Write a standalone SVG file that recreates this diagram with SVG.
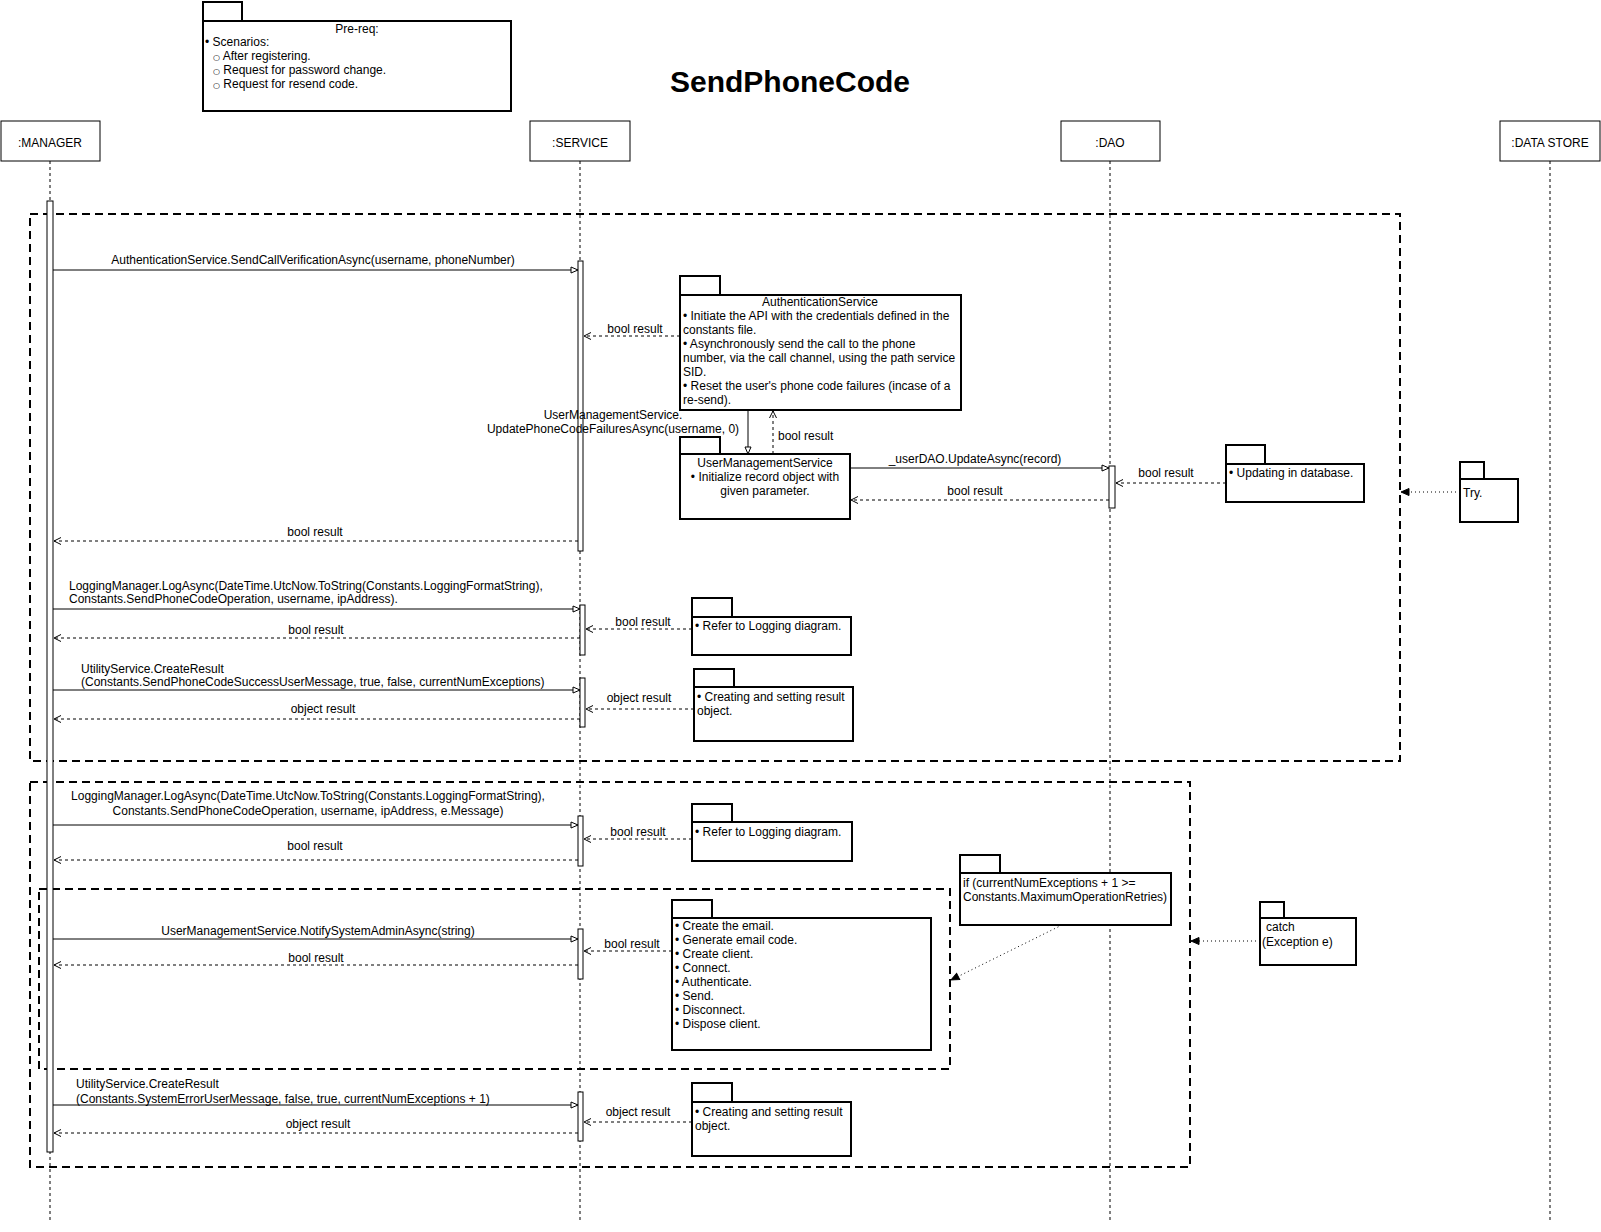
<svg xmlns="http://www.w3.org/2000/svg" width="1601" height="1232" viewBox="0 0 1601 1232">
<style>
.t{font-family:"Liberation Sans",Arial,Helvetica,sans-serif;font-size:12px;fill:#000}
.c{text-anchor:middle}
.b{font-family:"DejaVu Sans",sans-serif;font-size:8px}
.title{font-family:"Liberation Sans",Arial,Helvetica,sans-serif;font-size:30px;font-weight:bold;text-anchor:middle;fill:#000}
.hbox{fill:#fff;stroke:#000;stroke-width:1}
.ll{stroke:#000;stroke-width:1;stroke-dasharray:3 3;fill:none}
.act{fill:#fff;stroke:#000;stroke-width:1}
.note{fill:#fff;stroke:#000;stroke-width:2}
.frame{fill:none;stroke:#000;stroke-width:2;stroke-dasharray:8 5}
.msg{stroke:#000;stroke-width:1;fill:none;marker-end:url(#sync)}
.ret{stroke:#000;stroke-width:1;stroke-dasharray:3 3;fill:none;marker-end:url(#open)}
.dot{stroke:#000;stroke-width:1;stroke-dasharray:1 3;fill:none;marker-end:url(#solid)}
</style>
<defs>
<marker id="sync" markerUnits="userSpaceOnUse" markerWidth="10" markerHeight="10" refX="7" refY="3.5" orient="auto" overflow="visible"><path d="M0,0.5 L7,3.5 L0,6.5 Z" fill="#fff" stroke="#000" stroke-width="1"/></marker>
<marker id="open" markerUnits="userSpaceOnUse" markerWidth="10" markerHeight="10" refX="7" refY="3.5" orient="auto" overflow="visible"><path d="M0,0 L7,3.5 L0,7" fill="none" stroke="#000" stroke-width="1"/></marker>
<marker id="solid" markerUnits="userSpaceOnUse" markerWidth="10" markerHeight="10" refX="8" refY="3.5" orient="auto" overflow="visible"><path d="M0,0 L8,3.5 L0,7 Z" fill="#000" stroke="#000" stroke-width="1"/></marker>
</defs>
<rect width="1601" height="1232" fill="#fff"/>

<text class="title" x="790" y="92">SendPhoneCode</text>

<g id="frames">
<rect class="frame" x="30" y="214" width="1370" height="547"/>
<rect class="frame" x="30" y="782" width="1160" height="385"/>
<rect class="frame" x="39" y="889" width="911" height="180"/>
</g>

<g id="prereq">
<rect class="note" x="203" y="2" width="39" height="19"/>
<rect class="note" x="203" y="21" width="308" height="90"/>
<text class="t c" x="357" y="33">Pre-req:</text>
<text class="t" x="205" y="46">• Scenarios:</text>
<text class="t" x="213" y="60"><tspan class="b">○</tspan> After registering.</text>
<text class="t" x="213" y="74"><tspan class="b">○</tspan> Request for password change.</text>
<text class="t" x="213" y="88"><tspan class="b">○</tspan> Request for resend code.</text>
</g>

<g id="manager">
<rect class="hbox" x="1" y="121" width="99" height="40"/>
<text class="t c" x="50" y="147">:MANAGER</text>
<line class="ll" x1="50" y1="161" x2="50" y2="1220"/>
</g>
<g id="service">
<rect class="hbox" x="530" y="121" width="100" height="40"/>
<text class="t c" x="580" y="147">:SERVICE</text>
<line class="ll" x1="580" y1="161" x2="580" y2="1220"/>
</g>
<g id="dao">
<rect class="hbox" x="1061" y="121" width="99" height="40"/>
<text class="t c" x="1110" y="147">:DAO</text>
<line class="ll" x1="1110" y1="161" x2="1110" y2="1220"/>
</g>
<g id="datastore">
<rect class="hbox" x="1500" y="121" width="100" height="40"/>
<text class="t c" x="1550" y="147">:DATA STORE</text>
<line class="ll" x1="1550" y1="161" x2="1550" y2="1220"/>
</g>

<g id="activations">
<rect class="act" x="47" y="201" width="6" height="951"/>
<rect class="act" x="578" y="261" width="5" height="290"/>
<rect class="act" x="580" y="605" width="5" height="50"/>
<rect class="act" x="580" y="678" width="5" height="49"/>
<rect class="act" x="578" y="816" width="5" height="50"/>
<rect class="act" x="578" y="929" width="5" height="50"/>
<rect class="act" x="578" y="1092" width="5" height="49"/>
<rect class="act" x="1109" y="466" width="6" height="42"/>
</g>

<g id="connectors">
<line class="msg" x1="53" y1="270" x2="578" y2="270"/>
<text class="t c" x="313" y="264">AuthenticationService.SendCallVerificationAsync(username, phoneNumber)</text>

<line class="ret" x1="680" y1="336" x2="584" y2="336"/>
<text class="t c" x="635" y="333">bool result</text>

<line class="msg" x1="748" y1="410" x2="748" y2="454"/>
<text class="t c" x="613" y="419">UserManagementService.</text>
<text class="t c" x="613" y="433">UpdatePhoneCodeFailuresAsync(username, 0)</text>
<line class="ret" x1="773" y1="454" x2="773" y2="411"/>
<text class="t" x="778" y="440">bool result</text>

<line class="msg" x1="850" y1="468" x2="1109" y2="468"/>
<text class="t c" x="975" y="463">_userDAO.UpdateAsync(record)</text>
<line class="ret" x1="1226" y1="483" x2="1116" y2="483"/>
<text class="t c" x="1166" y="477">bool result</text>
<line class="ret" x1="1109" y1="500" x2="851" y2="500"/>
<text class="t c" x="975" y="495">bool result</text>

<line class="ret" x1="578" y1="541" x2="54" y2="541"/>
<text class="t c" x="315" y="536">bool result</text>

<line class="dot" x1="1460" y1="492" x2="1401" y2="492"/>

<line class="msg" x1="53" y1="609" x2="580" y2="609"/>
<text class="t" x="69" y="590">LoggingManager.LogAsync(DateTime.UtcNow.ToString(Constants.LoggingFormatString),</text>
<text class="t" x="69" y="603">Constants.SendPhoneCodeOperation, username, ipAddress).</text>
<line class="ret" x1="692" y1="629" x2="586" y2="629"/>
<text class="t c" x="643" y="626">bool result</text>
<line class="ret" x1="580" y1="638" x2="54" y2="638"/>
<text class="t c" x="316" y="634">bool result</text>

<line class="msg" x1="53" y1="690" x2="580" y2="690"/>
<text class="t" x="81" y="673">UtilityService.CreateResult</text>
<text class="t" x="81" y="686">(Constants.SendPhoneCodeSuccessUserMessage, true, false, currentNumExceptions)</text>
<line class="ret" x1="694" y1="709" x2="586" y2="709"/>
<text class="t c" x="639" y="702">object result</text>
<line class="ret" x1="580" y1="719" x2="54" y2="719"/>
<text class="t c" x="323" y="713">object result</text>

<line class="msg" x1="53" y1="825" x2="578" y2="825"/>
<text class="t c" x="308" y="800">LoggingManager.LogAsync(DateTime.UtcNow.ToString(Constants.LoggingFormatString),</text>
<text class="t c" x="308" y="815">Constants.SendPhoneCodeOperation, username, ipAddress, e.Message)</text>
<line class="ret" x1="692" y1="839" x2="584" y2="839"/>
<text class="t c" x="638" y="836">bool result</text>
<line class="ret" x1="578" y1="860" x2="54" y2="860"/>
<text class="t c" x="315" y="850">bool result</text>

<line class="msg" x1="53" y1="939" x2="578" y2="939"/>
<text class="t c" x="318" y="935">UserManagementService.NotifySystemAdminAsync(string)</text>
<line class="ret" x1="672" y1="951" x2="584" y2="951"/>
<text class="t c" x="632" y="948">bool result</text>
<line class="ret" x1="578" y1="965" x2="54" y2="965"/>
<text class="t c" x="316" y="962">bool result</text>

<line class="dot" x1="1062" y1="925" x2="951" y2="980"/>
<line class="dot" x1="1260" y1="941" x2="1191" y2="941"/>

<line class="msg" x1="53" y1="1105" x2="578" y2="1105"/>
<text class="t" x="76" y="1088">UtilityService.CreateResult</text>
<text class="t" x="76" y="1103">(Constants.SystemErrorUserMessage, false, true, currentNumExceptions + 1)</text>
<line class="ret" x1="692" y1="1122" x2="584" y2="1122"/>
<text class="t c" x="638" y="1116">object result</text>
<line class="ret" x1="578" y1="1133" x2="54" y2="1133"/>
<text class="t c" x="318" y="1128">object result</text>
</g>

<g id="authNote">
<rect class="note" x="680" y="276" width="40" height="19"/>
<rect class="note" x="680" y="295" width="281" height="115"/>
<text class="t c" x="820" y="306">AuthenticationService</text>
<text class="t" x="683" y="320">• Initiate the API with the credentials defined in the</text>
<text class="t" x="683" y="334">constants file.</text>
<text class="t" x="683" y="348">• Asynchronously send the call to the phone</text>
<text class="t" x="683" y="362">number, via the call channel, using the path service</text>
<text class="t" x="683" y="376">SID.</text>
<text class="t" x="683" y="390">• Reset the user's phone code failures (incase of a</text>
<text class="t" x="683" y="404">re-send).</text>
</g>

<g id="userMgmtNote">
<rect class="note" x="680" y="437" width="40" height="17"/>
<rect class="note" x="680" y="454" width="170" height="65"/>
<text class="t c" x="765" y="467">UserManagementService</text>
<text class="t c" x="765" y="481">• Initialize record object with</text>
<text class="t c" x="765" y="495">given parameter.</text>
</g>

<g id="dbNote">
<rect class="note" x="1226" y="445" width="39" height="19"/>
<rect class="note" x="1226" y="464" width="138" height="38"/>
<text class="t" x="1229" y="477">• Updating in database.</text>
</g>

<g id="tryNote">
<rect class="note" x="1460" y="462" width="24" height="17"/>
<rect class="note" x="1460" y="479" width="58" height="43"/>
<text class="t" x="1463" y="497">Try.</text>
</g>

<g id="logNote1">
<rect class="note" x="692" y="598" width="40" height="19"/>
<rect class="note" x="692" y="617" width="159" height="38"/>
<text class="t" x="695" y="630">• Refer to Logging diagram.</text>
</g>

<g id="resultNote1">
<rect class="note" x="694" y="669" width="40" height="18"/>
<rect class="note" x="694" y="687" width="159" height="54"/>
<text class="t" x="697" y="701">• Creating and setting result</text>
<text class="t" x="697" y="715">object.</text>
</g>

<g id="logNote2">
<rect class="note" x="692" y="804" width="40" height="18"/>
<rect class="note" x="692" y="822" width="160" height="39"/>
<text class="t" x="695" y="836">• Refer to Logging diagram.</text>
</g>

<g id="ifNote">
<rect class="note" x="960" y="855" width="40" height="18"/>
<rect class="note" x="960" y="873" width="211" height="52"/>
<text class="t" x="963" y="887">if (currentNumExceptions + 1 &gt;=</text>
<text class="t" x="963" y="901">Constants.MaximumOperationRetries)</text>
</g>

<g id="emailNote">
<rect class="note" x="672" y="900" width="40" height="18"/>
<rect class="note" x="672" y="918" width="259" height="132"/>
<text class="t" x="675" y="930">• Create the email.</text>
<text class="t" x="675" y="944">• Generate email code.</text>
<text class="t" x="675" y="958">• Create client.</text>
<text class="t" x="675" y="972">• Connect.</text>
<text class="t" x="675" y="986">• Authenticate.</text>
<text class="t" x="675" y="1000">• Send.</text>
<text class="t" x="675" y="1014">• Disconnect.</text>
<text class="t" x="675" y="1028">• Dispose client.</text>
</g>

<g id="catchNote">
<rect class="note" x="1260" y="902" width="24" height="16"/>
<rect class="note" x="1260" y="918" width="96" height="47"/>
<text class="t" x="1266" y="931">catch</text>
<text class="t" x="1262" y="946">(Exception e)</text>
</g>

<g id="resultNote2">
<rect class="note" x="692" y="1083" width="40" height="19"/>
<rect class="note" x="692" y="1102" width="159" height="54"/>
<text class="t" x="695" y="1116">• Creating and setting result</text>
<text class="t" x="695" y="1130">object.</text>
</g>
</svg>
